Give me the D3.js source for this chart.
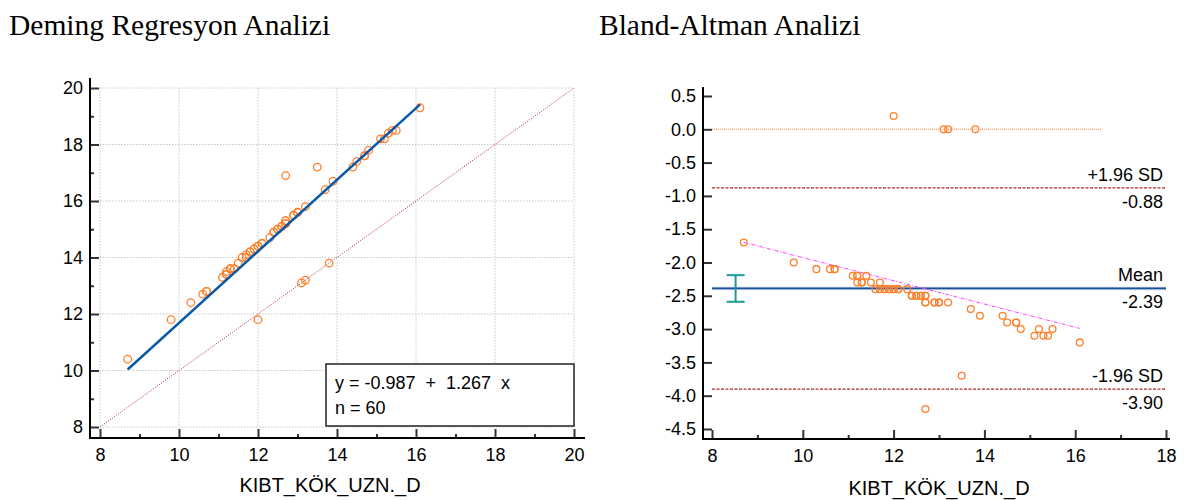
<!DOCTYPE html>
<html>
<head>
<meta charset="utf-8">
<script src="https://cdn.jsdelivr.net/npm/d3@7.9.0/dist/d3.min.js"></script>
<style>
  body { margin: 0; background: #fff; }
  svg { display: block; }
  .tick text { font-family: "Liberation Sans", Arial, sans-serif; font-size: 18px; fill: #000; }
  .tick line { stroke: #333; stroke-width: 2; }
  .lbl { font-family: "Liberation Sans", Arial, sans-serif; fill: #000; }
  .title { font-family: "Liberation Serif", "Times New Roman", serif; font-size: 29.5px; fill: #000; }
</style>
</head>
<body>
<svg id="chart" width="1184" height="500"></svg>
<script>
// KIBT_KÖK_UZN._D values (x) and the compared method (y), n = 60
const kibt = [8.7, 9.8, 10.3, 10.6, 10.7, 11.1, 11.2, 11.4, 11.2, 11.3,
              11.5, 11.7, 11.6, 11.7, 11.8, 11.9, 12.0, 12.1, 12.3, 12.4,
              12.5, 12.6, 12.7, 12.7, 12.9, 13.0, 13.2, 13.7, 13.9, 14.4,
              14.5, 14.7, 14.8, 15.2, 15.5, 15.1, 15.3, 15.4, 16.1, 13.5,
              12.7, 12.0, 13.1, 13.2, 13.8, 12.0, 12.1, 11.9, 11.8, 12.5,
              12.6, 12.7, 12.4, 12.9, 13.0, 12.7, 11.2, 11.3, 14.7, 10.7];
const other = [10.4, 11.8, 12.4, 12.7, 12.8, 13.3, 13.4, 13.6, 13.5, 13.6,
               13.8, 14.0, 14.0, 14.1, 14.2, 14.3, 14.4, 14.5, 14.7, 14.9,
               15.0, 15.1, 15.2, 15.3, 15.5, 15.6, 15.8, 16.4, 16.7, 17.2,
               17.4, 17.6, 17.8, 18.2, 18.5, 18.2, 18.4, 18.5, 19.3, 17.2,
               16.9, 11.8, 13.1, 13.2, 13.8, 14.4, 14.5, 14.3, 14.2, 15.0,
               15.1, 15.2, 14.9, 15.5, 15.6, 15.3, 13.4, 13.6, 17.6, 12.8];

// Deming fit
const demingIntercept = -0.987;
const demingSlope = 1.267;

// Bland-Altman stats
const baMean = -2.39;
const baUpper = -0.88;
const baLower = -3.90;
const baMeanCI = [-2.59, -2.19];
const baRegIntercept = -0.18;
const baRegSlope = -0.1745;
const zeroLineEnd = 16.57;

const leftTicks = [8, 10, 12, 14, 16, 18, 20];
const rightXTicks = [8, 10, 12, 14, 16, 18];
const rightYTicks = d3.range(-4.5, 0.51, 0.5);

const orange = "#ff7f2a";
const darkRed = "#b02828";

const data = kibt.map((x, i) => ({ x: x, y: other[i], d: x - other[i] }));
const xMin = d3.min(kibt), xMax = d3.max(kibt);

const svg = d3.select("#chart");

// titles
svg.append("text").attr("class", "title").attr("x", 9).attr("y", 35).text("Deming Regresyon Analizi");
svg.append("text").attr("class", "title").attr("x", 599).attr("y", 35).text("Bland-Altman Analizi");

///////////////////////////////////////////////////////
// LEFT: Deming regression

const xL = d3.scaleLinear().domain([8, 20]).range([100, 574]);
const yL = d3.scaleLinear().domain([8, 20]).range([427, 88]);

const left = svg.append("g");

// grid
left.selectAll(".vgrid").data(leftTicks).enter().append("line")
    .attr("x1", d => xL(d)).attr("x2", d => xL(d))
    .attr("y1", yL(20)).attr("y2", yL(8))
    .attr("stroke", "#c8c8c8").attr("stroke-dasharray", "1.5,1.5");
left.selectAll(".hgrid").data(leftTicks).enter().append("line")
    .attr("y1", d => yL(d)).attr("y2", d => yL(d))
    .attr("x1", xL(8)).attr("x2", xL(20))
    .attr("stroke", "#c8c8c8").attr("stroke-dasharray", "1.5,1.5");

// identity line
left.append("line")
    .attr("x1", xL(8)).attr("y1", yL(8)).attr("x2", xL(20)).attr("y2", yL(20))
    .attr("stroke", darkRed).attr("stroke-width", 1).attr("stroke-dasharray", "1,1.5");

// axes
function leftAxes() {
    const ya = left.append("g").attr("transform", "translate(90,0)")
        .call(d3.axisLeft(yL).tickValues(leftTicks).tickSize(-9).tickPadding(7));
    ya.select(".domain").remove();
    const yam = left.append("g").attr("transform", "translate(90,0)")
        .call(d3.axisLeft(yL).tickValues([9, 11, 13, 15, 17, 19]).tickSize(-4).tickFormat(""));
    yam.select(".domain").remove();

    const xa = left.append("g").attr("transform", "translate(0,438)")
        .call(d3.axisBottom(xL).tickValues(leftTicks).tickSize(-9).tickPadding(10));
    xa.select(".domain").remove();
    xa.selectAll("text").attr("dy", "0.71em");
    const xam = left.append("g").attr("transform", "translate(0,438)")
        .call(d3.axisBottom(xL).tickValues([9, 11, 13, 15, 17, 19]).tickSize(-4).tickFormat(""));
    xam.select(".domain").remove();

    left.append("line").attr("x1", 90).attr("x2", 90).attr("y1", 78).attr("y2", 439)
        .attr("stroke", "#000").attr("stroke-width", 2);
    left.append("line").attr("x1", 89).attr("x2", 585).attr("y1", 438).attr("y2", 438)
        .attr("stroke", "#000").attr("stroke-width", 2);
}
leftAxes();

// points
left.selectAll(".pt").data(data).enter().append("circle")
    .attr("cx", d => xL(d.x)).attr("cy", d => yL(d.y)).attr("r", 3.8)
    .attr("fill", "none").attr("stroke", orange).attr("stroke-width", 1.3);

// deming line
left.append("line")
    .attr("x1", xL(xMin)).attr("y1", yL(demingIntercept + demingSlope * xMin))
    .attr("x2", xL(xMax)).attr("y2", yL(demingIntercept + demingSlope * xMax))
    .attr("stroke", "#0a58a8").attr("stroke-width", 2.5);

// legend box
left.append("rect").attr("x", 326).attr("y", 364).attr("width", 248).attr("height", 62)
    .attr("fill", "#fff").attr("stroke", "#222").attr("stroke-width", 1.5);
left.append("text").attr("class", "lbl").attr("x", 335).attr("y", 389).style("font-size", "18px")
    .attr("xml:space", "preserve")
    .text(`y = ${demingIntercept}  +  ${demingSlope}  x`);
left.append("text").attr("class", "lbl").attr("x", 335).attr("y", 414).style("font-size", "18px")
    .text(`n = ${data.length}`);

left.append("text").attr("class", "lbl").attr("x", 330).attr("y", 492)
    .attr("text-anchor", "middle").style("font-size", "20px").text("KIBT_KÖK_UZN._D");

///////////////////////////////////////////////////////
// RIGHT: Bland-Altman

const xR = d3.scaleLinear().domain([8, 18]).range([712, 1166]);
const yR = d3.scaleLinear().domain([-4.5, 0.5]).range([429, 96]);

const right = svg.append("g");

function rightAxes() {
    const ya = right.append("g").attr("transform", "translate(703,0)")
        .call(d3.axisLeft(yR).tickValues(rightYTicks).tickSize(-9).tickPadding(7)
            .tickFormat(d => d.toFixed(1)));
    ya.select(".domain").remove();

    const xa = right.append("g").attr("transform", "translate(0,439)")
        .call(d3.axisBottom(xR).tickValues(rightXTicks).tickSize(-9).tickPadding(10));
    xa.select(".domain").remove();
    xa.selectAll("text").attr("dy", "0.71em");
    const xam = right.append("g").attr("transform", "translate(0,439)")
        .call(d3.axisBottom(xR).tickValues([9, 11, 13, 15, 17]).tickSize(-4).tickFormat(""));
    xam.select(".domain").remove();

    right.append("line").attr("x1", 703).attr("x2", 703).attr("y1", 87).attr("y2", 440)
        .attr("stroke", "#000").attr("stroke-width", 2);
    right.append("line").attr("x1", 702).attr("x2", 1170).attr("y1", 439).attr("y2", 439)
        .attr("stroke", "#000").attr("stroke-width", 2);
}
rightAxes();

// zero line
right.append("line").attr("x1", xR(8)).attr("x2", xR(zeroLineEnd))
    .attr("y1", yR(0)).attr("y2", yR(0))
    .attr("stroke", "#ff8c40").attr("stroke-width", 1).attr("stroke-dasharray", "1,1");

// limits
[baUpper, baLower].forEach(v => {
    right.append("line").attr("x1", xR(8)).attr("x2", xR(18))
        .attr("y1", yR(v)).attr("y2", yR(v))
        .attr("stroke", darkRed).attr("stroke-width", 1.2).attr("stroke-dasharray", "3,1.5");
});

// mean line
right.append("line").attr("x1", xR(8)).attr("x2", xR(18))
    .attr("y1", yR(baMean)).attr("y2", yR(baMean))
    .attr("stroke", "#c4d8ee").attr("stroke-width", 3.5);
right.append("line").attr("x1", xR(8)).attr("x2", xR(18))
    .attr("y1", yR(baMean)).attr("y2", yR(baMean))
    .attr("stroke", "#1d4f96").attr("stroke-width", 1.8);

// CI of mean
const ciX = xR(8.52);
const ci = right.append("g").attr("stroke", "#1a9a9a").attr("stroke-width", 2);
ci.append("line").attr("x1", ciX).attr("x2", ciX).attr("y1", yR(baMeanCI[0])).attr("y2", yR(baMeanCI[1]));
baMeanCI.forEach(v => {
    ci.append("line").attr("x1", ciX - 9).attr("x2", ciX + 9).attr("y1", yR(v)).attr("y2", yR(v));
});

// regression of differences
right.append("line")
    .attr("x1", xR(xMin)).attr("y1", yR(baRegIntercept + baRegSlope * xMin))
    .attr("x2", xR(xMax)).attr("y2", yR(baRegIntercept + baRegSlope * xMax))
    .attr("stroke", "#ff44ff").attr("stroke-width", 1).attr("stroke-dasharray", "4,1.5,1,1.5");

// points
right.selectAll(".pt").data(data).enter().append("circle")
    .attr("cx", d => xR(d.x)).attr("cy", d => yR(d.d)).attr("r", 3.4)
    .attr("fill", "none").attr("stroke", orange).attr("stroke-width", 1.3);

// labels for lines
const lineLabels = [
    { v: baUpper, top: "+1.96 SD", bottom: baUpper.toFixed(2) },
    { v: baMean, top: "Mean", bottom: baMean.toFixed(2) },
    { v: baLower, top: "-1.96 SD", bottom: baLower.toFixed(2) }
];
lineLabels.forEach(l => {
    right.append("text").attr("class", "lbl").attr("x", 1163).attr("y", yR(l.v) - 7)
        .attr("text-anchor", "end").style("font-size", "18px").text(l.top);
    right.append("text").attr("class", "lbl").attr("x", 1163).attr("y", yR(l.v) + 20)
        .attr("text-anchor", "end").style("font-size", "18px").text(l.bottom);
});

right.append("text").attr("class", "lbl").attr("x", 939).attr("y", 495)
    .attr("text-anchor", "middle").style("font-size", "20px").text("KIBT_KÖK_UZN._D");
</script>
</body>
</html>
